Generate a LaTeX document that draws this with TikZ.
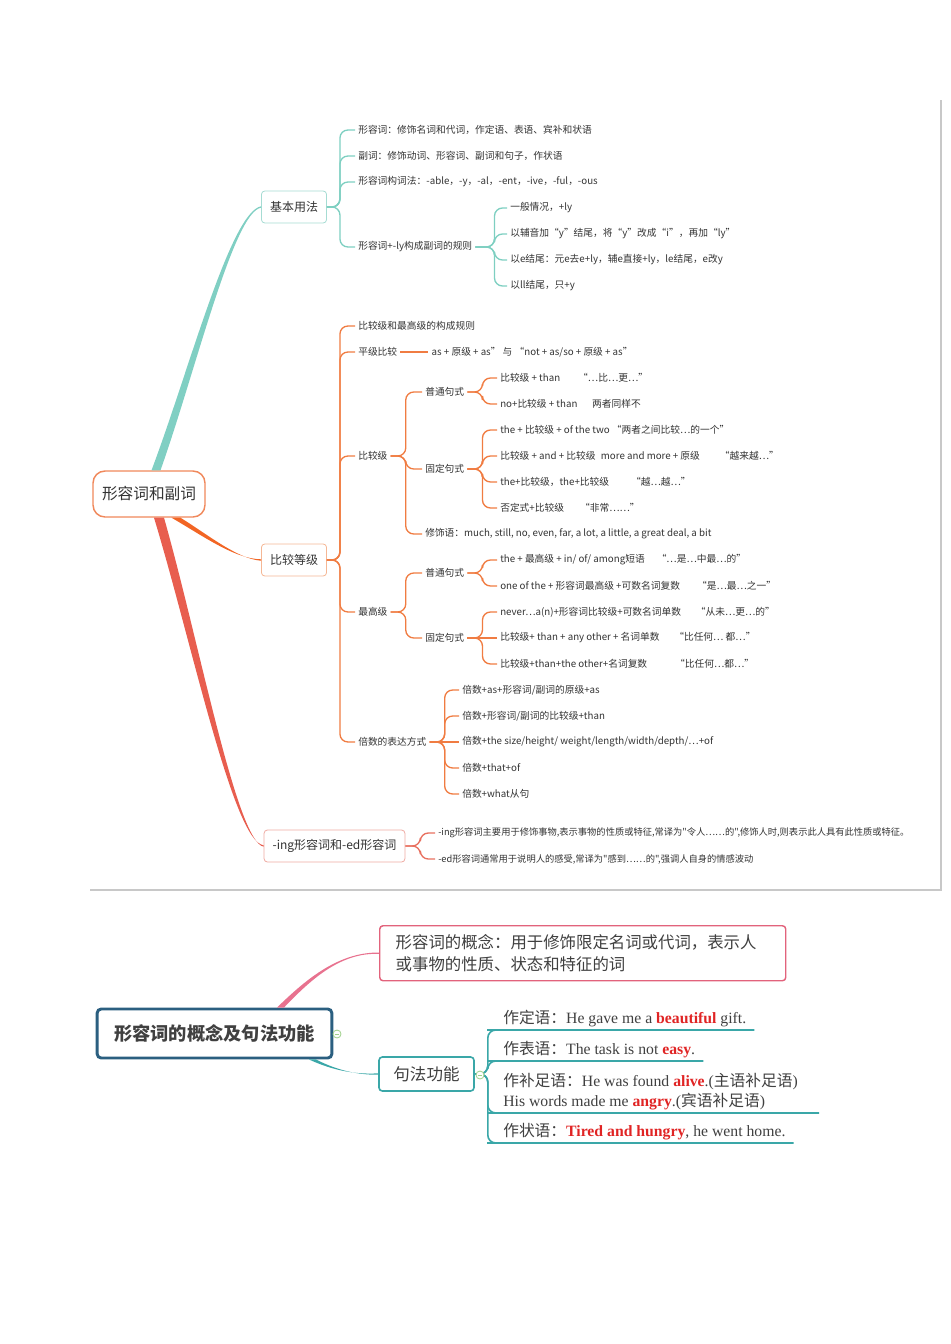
\documentclass[tikz,border=0pt]{standalone}
\usepackage{fontspec}
\setmainfont{Noto Sans CJK SC}
\newfontfamily\en{Liberation Serif}
\newfontfamily\plaincjk{Noto Sans CJK SC}
\usetikzlibrary{positioning,calc}

\definecolor{txt}{HTML}{333333}
\definecolor{cjkgray}{HTML}{404040}
\definecolor{redw}{HTML}{E02424}
\definecolor{tealbig}{HTML}{80CFC3}
\definecolor{tealln}{HTML}{7ECFC1}
\definecolor{tealbox}{HTML}{A6DCD3}
\definecolor{orgbig}{HTML}{F26524}
\definecolor{orgln}{HTML}{F07C42}
\definecolor{orgbox}{HTML}{F5B795}
\definecolor{redbig}{HTML}{E85E4F}
\definecolor{redln}{HTML}{E8705F}
\definecolor{redbox}{HTML}{EFAAA2}
\definecolor{rootbd}{HTML}{F0885B}
\definecolor{pinkln}{HTML}{E8728F}
\definecolor{pinkbd}{HTML}{E2637C}
\definecolor{sfteal}{HTML}{3AA7A8}
\definecolor{bmainbd}{HTML}{2B5F80}
\definecolor{ccgreen}{HTML}{9FD08A}
\definecolor{framegray}{HTML}{C8C8C8}

\newcommand\keyw[1]{{\bfseries\color{redw}#1}}
% parent -> child, stem of #1 px, then round corner
\newcommand\kid[4][15]{\draw[#2] (#3.east) -- ++(#1,0) |- (#4.west);}
% thick tapered main branch
\newcommand\bigbranch[7]{%
  \fill[#1] ($(#2)+(#3-#4,0)$) .. controls ($#5+(-0.75*#4,0)$) and ($#6+(-0.35*#4,0)$) .. ($(#7)+(0,-0.7)$)
    -- ($(#7)+(0,0.7)$) .. controls ($#6+(0.35*#4,0)$) and ($#5+(0.75*#4,0)$) .. ($(#2)+(#3+#4,0)$) -- cycle;}

\tikzset{
  leaf/.style={anchor=west, inner xsep=2.25pt, inner ysep=1pt, text=txt, font=\fontsize{7.3}{9}\selectfont},
  small/.style={leaf, font=\plaincjk\fontsize{6.95}{9}\selectfont},
  topic/.style={draw, fill=white, rounded corners=2.5pt, line width=0.6pt, inner xsep=6.4pt,
    minimum height=24pt, text=txt, font=\fontsize{9}{11}\selectfont},
  root/.style={draw=rootbd, fill=white, rounded corners=9pt, line width=1.1pt, inner xsep=6.75pt,
    minimum height=34.5pt, text=txt, font=\fontsize{11.75}{14}\selectfont},
  tln/.style={draw=tealln, line width=1pt, rounded corners=6pt},
  oln/.style={draw=orgln, line width=1pt, rounded corners=6pt},
  rln/.style={draw=redln, line width=1pt, rounded corners=6pt},
  sln/.style={draw=sfteal, line width=1.2pt, rounded corners=6pt},
  bmain/.style={draw=bmainbd, fill=white, line width=2.2pt, rounded corners=3pt, minimum width=176pt,
    minimum height=36.75pt, text=cjkgray, font=\fontsize{13.7}{16}\selectfont\bfseries},
  concept/.style={draw=pinkbd, fill=white, line width=1.1pt, rounded corners=2.5pt, anchor=north west,
    text width=280.5pt, inner xsep=12pt, minimum height=41.25pt, align=left, text=cjkgray,
    font=\fontsize{12.3}{16.5}\selectfont},
  sfbox/.style={draw=sfteal, fill=white, line width=1.2pt, rounded corners=2.5pt, minimum width=71.25pt,
    minimum height=25.5pt, text=cjkgray, font=\fontsize{12.4}{15}\selectfont},
  fun/.style={anchor=south west, inner xsep=6pt, inner ysep=2pt, align=left, text=cjkgray,
    font=\fontsize{11.8}{15}\selectfont},
  collapse/.style={circle, draw=ccgreen, fill=white, line width=0.6pt, minimum size=6pt, inner sep=0pt,
    path picture={\draw[ccgreen, line width=0.6pt] ([xshift=-1.7pt]path picture bounding box.center)
      -- ([xshift=1.7pt]path picture bounding box.center);}}
}

\begin{document}
\begin{tikzpicture}[x=0.75pt, y=-0.75pt]
\useasboundingbox (0,0) rectangle (950,1344);

% screenshot frame
\draw[framegray, line width=1.1pt] (90,890) -- (941,890) -- (941,100);

% ---------- first map ----------
\node[root] (root) at (149,494) {形容词和副词};
\node[topic, draw=tealbox] (jb) at (294,207) {基本用法};
\node[topic, draw=orgbox] (bj) at (294,560) {比较等级};
\node[topic, draw=redbox] (ing) at (334.5,846) {-ing形容词和-ed形容词};

\bigbranch{tealbig}{root.north}{7}{4.5}{(192,372)}{(232,212)}{jb.west}
\bigbranch{orgbig}{root.south}{27}{4.5}{(205,535)}{(236,559)}{bj.west}
\bigbranch{redbig}{root.south}{10}{5}{(195,640)}{(235,842)}{ing.west}

% basic usage
\node[leaf] (t1) at (355,130) {形容词：修饰名词和代词，作定语、表语、宾补和状语};
\node[leaf] (t2) at (355,156) {副词：修饰动词、形容词、副词和句子，作状语};
\node[leaf] (t3) at (355,182) {形容词构词法：-able，-y，-al，-ent，-ive，-ful，-ous};
\node[leaf] (t4) at (355,247) {形容词+-ly构成副词的规则};
\node[leaf] (t41) at (507,208) {一般情况，+ly};
\node[leaf] (t42) at (507,234) {以辅音加“y”结尾，将“y”改成“i”，再加“ly”};
\node[leaf] (t43) at (507,260) {以e结尾：元e去e+ly，辅e直接+ly，le结尾，e改y};
\node[leaf] (t44) at (507,286) {以ll结尾，只+y};

\foreach \c in {t1,t2,t3,t4} {\kid[13]{tln}{jb}{\c}}
\foreach \c in {t41,t42,t43,t44} {\kid[19]{tln}{t4}{\c}}

% degrees of comparison
\node[leaf] (o1) at (355,326) {比较级和最高级的构成规则};
\node[leaf] (o2) at (355,352) {平级比较};
\node[leaf] (o2a) [right=21pt of o2] {as + 原级 + as”\ 与\ “not + as/so + 原级 + as”};
\node[leaf] (o3) at (355,456) {比较级};
\node[leaf] (o31) at (422,392) {普通句式};
\node[leaf] (o311) at (497,378) {比较级 + than\hspace{13.5pt}“…比…更…”};
\node[leaf] (o312) at (497,404) {no+比较级 + than\hspace{11pt}两者同样不};
\node[leaf] (o32) at (422,469) {固定句式};
\node[leaf] (o321) at (497,430) {the + 比较级 + of the two “两者之间比较…的一个”};
\node[leaf] (o322) at (497,456) {比较级 + and + 比较级\hspace{4pt}more and more + 原级\hspace{15pt}“越来越…”};
\node[leaf] (o323) at (497,482) {the+比较级，the+比较级\hspace{16.5pt}“越…越…”};
\node[leaf] (o324) at (497,508) {否定式+比较级\hspace{12pt}“非常……”};
\node[leaf] (o33) at (422,534) {修饰语：much, still, no, even, far, a lot, a little, a great deal, a bit};
\node[leaf] (o4) at (355,612) {最高级};
\node[leaf] (o41) at (422,573) {普通句式};
\node[leaf] (o411) at (497,560) {the + 最高级 + in/ of/ among短语\hspace{9pt}“…是…中最…的”};
\node[leaf] (o412) at (497,586) {one of the + 形容词最高级 +可数名词复数\hspace{12.75pt}“是…最…之一”};
\node[leaf] (o42) at (422,638) {固定句式};
\node[leaf] (o421) at (497,612) {never…a(n)+形容词比较级+可数名词单数\hspace{11pt}“从未…更…的”};
\node[leaf] (o422) at (497,638) {比较级+ than + any other + 名词单数\hspace{11pt}“比任何… 都…”};
\node[leaf] (o423) at (497,664) {比较级+than+the other+名词复数\hspace{21pt}“比任何…都…”};
\node[leaf] (o5) at (355,742) {倍数的表达方式};
\node[leaf] (o51) at (459,690) {倍数+as+形容词/副词的原级+as};
\node[leaf] (o52) at (459,716) {倍数+形容词/副词的比较级+than};
\node[leaf] (o53) at (459,742) {倍数+the size/height/ weight/length/width/depth/…+of};
\node[leaf] (o54) at (459,768) {倍数+that+of};
\node[leaf] (o55) at (459,794) {倍数+what从句};

\foreach \c in {o1,o2,o3,o4,o5} {\kid[13]{oln}{bj}{\c}}
\draw[oln] (o2.east) -- (o2a.west);
\foreach \c in {o31,o32,o33} {\kid{oln}{o3}{\c}}
\foreach \c in {o311,o312} {\kid{oln}{o31}{\c}}
\foreach \c in {o321,o322,o323,o324} {\kid{oln}{o32}{\c}}
\foreach \c in {o41,o42} {\kid{oln}{o4}{\c}}
\foreach \c in {o411,o412} {\kid{oln}{o41}{\c}}
\foreach \c in {o421,o423} {\kid{oln}{o42}{\c}}
\draw[oln] (o42.east) -- (o422.west);
\foreach \c in {o51,o52,o54,o55} {\kid{oln}{o5}{\c}}
\draw[oln] (o5.east) -- (o53.west);

% -ing / -ed
\node[small] (r1) at (435,833) {-ing形容词主要用于修饰事物,表示事物的性质或特征,常译为"令人……的",修饰人时,则表示此人具有此性质或特征。};
\node[small] (r2) at (435,859) {-ed形容词通常用于说明人的感受,常译为"感到……的",强调人自身的情感波动};
\foreach \c in {r1,r2} {\kid{rln}{ing}{\c}}

% ---------- second map ----------
\node[bmain] (bm) at (214.5,1033.5) {形容词的概念及句法功能};
\node[concept] (gn) at (379,925) {形容词的概念：用于修饰限定名词或代词，表示人\\或事物的性质、状态和特征的词};
\node[sfbox] (sf) at (426.5,1074) {句法功能};

\bigbranch{pinkln}{bm.north}{66}{3.5}{(306,982)}{(338,952)}{gn.west}
\bigbranch{sfteal}{bm.south}{98}{3.5}{(330,1068)}{(352,1075)}{sf.west}

\node[fun] (f1) at (495,1030) {作定语：{\en He gave me a \keyw{beautiful} gift.}};
\node[fun] (f2) at (495,1061) {作表语：{\en The task is not \keyw{easy}.}};
\node[fun] (f3) at (495,1113) {作补足语：{\en He was found \keyw{alive}.(}主语补足语{\en )}\\{\en His words made me \keyw{angry}.(}宾语补足语{\en )}};
\node[fun] (f4) at (495,1143) {作状语：{\en\keyw{Tired and hungry}, he went home.}};

\draw[sln] (sf.east) -- ++(13,0) |- (f1.south west) -- (f1.south east);
\draw[sln] (sf.east) -- ++(13,0) |- (f2.south west) -- (f2.south east);
\draw[sln] (sf.east) -- ++(13,0) |- (f3.south west) -- ($(f3.south east)+(13,0)$);
\draw[sln] (sf.east) -- ++(13,0) |- (f4.south west) -- (f4.south east);

\node[collapse] (cb1) at (337,1034) {};
\node[collapse] (cb2) at (480,1075) {};
\end{tikzpicture}
\end{document}
